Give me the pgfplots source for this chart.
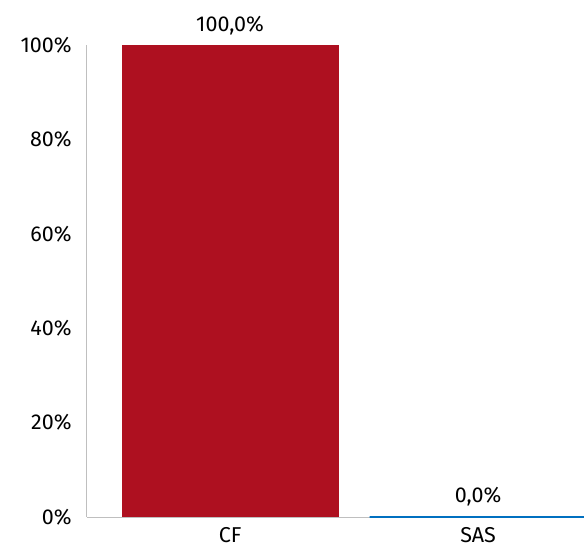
\documentclass[border=0pt]{standalone}
\usepackage{fontspec}
\setmainfont{Fira Sans}
\usepackage{pgfplots}
\pgfplotsset{compat=1.18}
\usetikzlibrary{calc}
\definecolor{cfred}{HTML}{AE1020}
\definecolor{sasblue}{HTML}{0070C0}
\definecolor{axgray}{HTML}{BFBFBF}
\pgfplotsset{
  layers/barsontop/.define layer set={
    axis background,axis grid,axis ticks,axis lines,axis tick labels,
    main,axis descriptions,axis foreground}{},
}
\begin{document}
\fontsize{21.5}{25}\selectfont
\begin{tikzpicture}
\begin{axis}[
  name=ax,
  set layers=barsontop,
  scale only axis,
  width=497pt, height=472pt,
  ybar, bar width=0.875, bar shift=0pt,
  ymin=0, ymax=100,
  xmin=-0.577, xmax=1.427,
  xtick={0,1}, xticklabels={CF,SAS},
  ytick={0,20,40,60,80,100},
  yticklabels={0\%,20\%,40\%,60\%,80\%,100\%},
  tick style={draw=none},
  axis lines*=left,
  axis line style={draw=axgray, line width=1pt},
  y tick label style={xshift=-8pt},
  x tick label style={yshift=1pt},
  clip=false,
  nodes near coords={\pgfmathprintnumber[fixed,fixed zerofill,precision=1,use comma,assume math mode=true]{\pgfplotspointmeta}\%},
  every node near coord/.append style={font=\fontsize{21.5}{25}\selectfont, yshift=3pt, color=black},
]
  \addplot[fill=cfred, draw=none] coordinates {(0,100)};
  \addplot[fill=sasblue, draw=sasblue, line width=1.2pt] coordinates {(1,0)};
\end{axis}
\pgfresetboundingbox
\path ($(ax.south west)+(-87pt,-30pt)$) rectangle ($(ax.north east)+(0,45pt)$);
\end{tikzpicture}
\end{document}
